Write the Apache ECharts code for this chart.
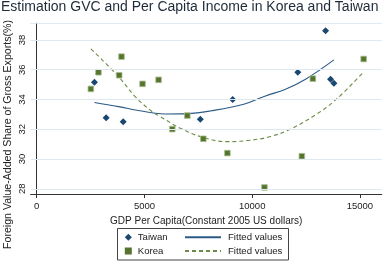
<!DOCTYPE html>
<html><head><meta charset="utf-8">
<script src="https://cdn.jsdelivr.net/npm/echarts@6/dist/echarts.min.js"></script>
<style>html,body{margin:0;padding:0;background:#fff}#c{width:387px;height:262px}</style>
</head><body><div id="c"></div>
<script>
const titleText = 'Estimation GVC and Per Capita Income in Korea and Taiwan';
const xTitle = 'GDP Per Capita(Constant 2005 US dollars)';
const yTitle = 'Foreign Value-Added Share of Gross Exports(%)';
const xTicks = [0, 5000, 10000, 15000];
const yTicks = [28, 30, 32, 34, 36, 38];

const taiwanX = [2678, 3222, 4013, 7593, 9095, 12118, 13406, 13638, 13792];
const taiwanY = [35.16, 32.77, 32.50, 32.68, 34.00, 35.83, 38.62, 35.36, 35.09];

const koreaX = [2511, 2864, 3827, 3934, 4910, 5654, 6291, 6989, 7733, 8849, 10569, 12304, 12815, 15173];
const koreaY = [34.71, 35.83, 35.63, 36.88, 35.05, 35.32, 32.01, 32.92, 31.36, 30.40, 28.09, 30.19, 35.40, 36.72];

const taiwanFitX = [2678, 3794, 4724, 5501, 5966, 6975, 8058, 9607, 10616, 11546, 12476, 13792];
const taiwanFitY = [33.80, 33.52, 33.26, 33.08, 33.03, 33.05, 33.23, 33.68, 34.24, 34.69, 35.36, 36.66];

const koreaFitX = [2511, 3794, 4571, 5348, 5733, 6663, 7747, 8835, 9765, 10848, 11858, 12941, 13871, 15173];
const koreaFitY = [37.40, 35.54, 34.19, 33.19, 32.85, 32.07, 31.44, 31.17, 31.24, 31.51, 32.07, 32.97, 33.97, 35.85];

const xMin = -280, xMax = 16010, yMin = 27.65, yMax = 39.12;

const zip = (a, b) => a.map((v, i) => [v, b[i]]);
const FONT = 'Liberation Sans, Arial, sans-serif';
const navy = '#1a476f', green = '#55752f';
const txt = '#222';

const chart = echarts.init(document.getElementById('c'), null, {renderer: 'canvas'});
chart.setOption({
  animation: false,
  backgroundColor: '#fff',
  textStyle: {fontFamily: FONT},
  title: {text: titleText, left: 1, top: 0, padding: 0,
    textStyle: {fontFamily: FONT, fontSize: 14, fontWeight: 'normal', color: '#1e2a38'}},
  grid: {left: 30.7, right: 5.3, top: 23.3, bottom: 68, containLabel: false},
  xAxis: [{
    type: 'value', min: xMin, max: xMax,
    axisLine: {show: true, lineStyle: {color: '#333', width: 1}},
    axisTick: {show: true, length: 4, customValues: xTicks, lineStyle: {color: '#333'}},
    axisLabel: {customValues: xTicks, margin: 7, fontSize: 9.5, color: txt, fontFamily: FONT,
      formatter: v => String(v)},
    splitLine: {show: false},
    name: xTitle, nameLocation: 'middle', nameGap: 16,
    nameTextStyle: {fontSize: 10, color: txt, fontFamily: FONT}
  }, {
    type: 'value', position: 'top', min: xMin, max: xMax,
    axisLine: {show: true, lineStyle: {color: '#dde7ee', width: 1, type: 'dotted'}},
    axisTick: {show: false}, axisLabel: {show: false}, splitLine: {show: false}
  }],
  yAxis: {
    type: 'value', min: yMin, max: yMax,
    axisLine: {show: true, lineStyle: {color: '#333', width: 1}},
    axisTick: {show: true, length: 3, customValues: yTicks, lineStyle: {color: '#333'}},
    axisLabel: {show: false},
    splitLine: {show: false}
  },
  legend: [{
    left: 124.8, top: 232.3, padding: 0, orient: 'vertical', itemWidth: 7, itemHeight: 7, itemGap: 3.7,
    data: [{name: 'Taiwan', icon: 'diamond'}, {name: 'Korea', icon: 'rect'}],
    itemStyle: {borderWidth: 0},
    textStyle: {fontSize: 9.6, color: txt, fontFamily: FONT, lineHeight: 10, padding: [0, 0, 0, 1]}
  }, {
    left: 184, top: 232.3, padding: 0, orient: 'vertical', itemWidth: 36, itemHeight: 10, itemGap: 3.7,
    data: ['Taiwan fit', 'Korea fit'],
    formatter: () => 'Fitted values',
    itemStyle: {color: 'rgba(0,0,0,0)', borderColor: 'rgba(0,0,0,0)', borderWidth: 0},
    textStyle: {fontSize: 9.6, color: txt, fontFamily: FONT, lineHeight: 10, padding: [0, 0, 0, 2]}
  }],
  series: [{
    name: 'grid', type: 'scatter', data: [], silent: true, z: 0,
    markLine: {silent: true, symbol: 'none', label: {show: false},
      lineStyle: {color: '#dde8ef', width: 1.2, type: 'solid'},
      data: yTicks.map(v => ({yAxis: v}))}
  }, {
    name: 'Taiwan fit', type: 'line', data: zip(taiwanFitX, taiwanFitY), smooth: 0.4,
    showSymbol: false, symbol: 'none', z: 2,
    lineStyle: {color: '#2b5a86', width: 1.1}, itemStyle: {color: '#2b5a86'}
  }, {
    name: 'Korea fit', type: 'line', data: zip(koreaFitX, koreaFitY), smooth: 0.4,
    showSymbol: false, symbol: 'none', z: 2,
    lineStyle: {color: '#6c8c45', width: 1.1, type: [4, 3]}, itemStyle: {color: '#6c8c45'}
  }, {
    name: 'Taiwan', type: 'scatter', data: zip(taiwanX, taiwanY), symbol: 'diamond', symbolSize: 7, z: 3,
    itemStyle: {color: navy, opacity: 1}
  }, {
    name: 'Korea', type: 'scatter', data: zip(koreaX, koreaY), symbol: 'rect', symbolSize: 5.6, z: 3,
    itemStyle: {color: green, borderColor: '#a9bc8f', borderWidth: 0.8, opacity: 1}
  }]
});

// Rotated y tick labels placed through the library's own y scale
const yLabelGraphics = yTicks.map(v => {
  const p = chart.convertToPixel({xAxisIndex: 0, yAxisIndex: 0}, [xMin, v]);
  return {
    type: 'text', x: p[0] - 8, y: p[1], rotation: Math.PI / 2, silent: true,
    style: {text: String(v), fontSize: 9.5, fontFamily: FONT, fill: txt, align: 'center', verticalAlign: 'middle'}
  };
});
chart.setOption({
  graphic: [{
    type: 'rect', shape: {x: 117.5, y: 228.5, width: 171, height: 31.5},
    style: {fill: 'none', stroke: '#444', lineWidth: 1}, silent: true
  }, {
    type: 'text', x: 8.5, y: 134.5, rotation: Math.PI / 2,
    style: {text: yTitle, fontSize: 10.6, fontFamily: FONT, fill: txt,
      align: 'center', verticalAlign: 'middle'}, silent: true
  }].concat(yLabelGraphics)
});
</script></body></html>
